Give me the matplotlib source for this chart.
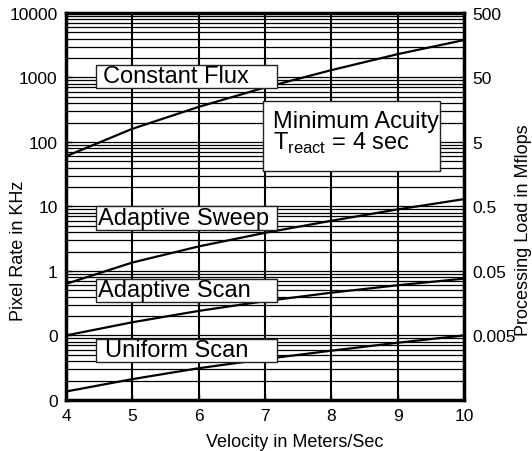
import matplotlib
matplotlib.use('Agg')
import matplotlib.pyplot as plt
from matplotlib.patches import Rectangle
from matplotlib.ticker import FixedLocator, FixedFormatter, LogLocator, NullFormatter

plt.rcParams['font.family'] = ['Liberation Sans', 'DejaVu Sans']
plt.rcParams['mathtext.fontset'] = 'custom'
plt.rcParams['mathtext.rm'] = 'Liberation Sans'

# velocity (m/s)
velocity = [4, 5, 6, 7, 8, 9, 10]
# pixel rate (KHz)
constant_flux = [60, 160, 350, 700, 1300, 2300, 3800]
adaptive_sweep = [0.63, 1.35, 2.4, 3.9, 6.0, 9.0, 13.0]
adaptive_scan = [0.10, 0.16, 0.24, 0.34, 0.46, 0.60, 0.76]
uniform_scan = [0.0135, 0.021, 0.031, 0.043, 0.058, 0.077, 0.10]

left_ticks = [0.01, 0.1, 1, 10, 100, 1000, 10000]
left_labels = ['0', '0', '1', '10', '100', '1000', '10000']
right_ticks = [0.005, 0.05, 0.5, 5, 50, 500]
right_labels = ['0.005', '0.05', '0.5', '5', '50', '500']
mflops_per_khz = 0.05

fig = plt.figure(figsize=(5.32, 4.52), dpi=100)
ax = fig.add_axes([0.124, 0.113, 0.748, 0.856])

for series in [constant_flux, adaptive_sweep, adaptive_scan, uniform_scan]:
    ax.plot(velocity, series, color='black', lw=1.6, zorder=3)

ax.set_yscale('log')
ax.set_xlim(4, 10)
ax.set_ylim(0.01, 10000)
ax.set_xticks(velocity)
ax.yaxis.set_major_locator(FixedLocator(left_ticks))
ax.yaxis.set_major_formatter(FixedFormatter(left_labels))
ax.yaxis.set_minor_locator(LogLocator(base=10, subs=range(2, 10), numticks=20))
ax.yaxis.set_minor_formatter(NullFormatter())
ax.tick_params(axis='both', which='major', labelsize=12.5, direction='in',
               length=4, width=1, pad=6)
ax.tick_params(axis='y', which='minor', direction='in', length=2)
ax.grid(True, which='major', axis='x', color='black', lw=1.5)
ax.grid(True, which='both', axis='y', color='black', lw=0.9)
for sp in ax.spines.values():
    sp.set_linewidth(2.5)

sec = ax.secondary_yaxis('right', functions=(lambda y: y * mflops_per_khz,
                                             lambda y: y / mflops_per_khz))
sec.yaxis.set_major_locator(FixedLocator(right_ticks))
sec.yaxis.set_major_formatter(FixedFormatter(right_labels))
sec.yaxis.set_minor_locator(FixedLocator([]))
sec.tick_params(labelsize=12.5, direction='in', length=4, pad=6)
fig.text(523 / 532, 1 - 230 / 452, 'Processing Load in Mflops', fontsize=13,
         rotation=90, ha='center', va='center')

ax.set_xlabel('Velocity in Meters/Sec', fontsize=13)
ax.xaxis.set_label_coords(0.575, -0.085)
ax.set_ylabel('Pixel Rate in KHz', fontsize=13)
ax.yaxis.set_label_coords(-0.098, 0.388)

# label boxes (axes fraction)
labels = [('Constant Flux', 0.806, 0.093),
          ('Adaptive Sweep', 0.440, 0.080),
          ('Adaptive Scan', 0.253, 0.080),
          ('Uniform Scan', 0.098, 0.098)]
for txt, yb, xt in labels:
    ax.add_patch(Rectangle((0.075, yb), 0.455, 0.060, transform=ax.transAxes,
                           facecolor='white', edgecolor='#222222', lw=1.0, zorder=4))
    ax.text(xt, yb + 0.030, txt, transform=ax.transAxes, fontsize=17,
            ha='left', va='center', zorder=5)

ax.add_patch(Rectangle((0.495, 0.592), 0.445, 0.181, transform=ax.transAxes,
                       facecolor='white', edgecolor='#222222', lw=1.0, zorder=4))
ax.text(0.520, 0.705, 'Minimum Acuity', transform=ax.transAxes, fontsize=17,
        ha='left', va='baseline', zorder=5)
ax.text(0.520, 0.648, r'T$_{\mathrm{react}}$ = 4 sec', transform=ax.transAxes,
        fontsize=17, ha='left', va='baseline', zorder=5)

fig.savefig('out.png', dpi=100)
